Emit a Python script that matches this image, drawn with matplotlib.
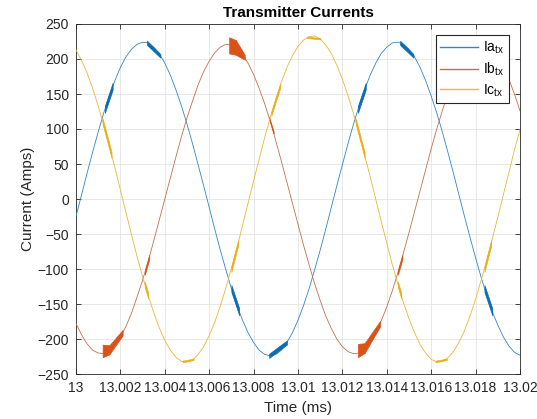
import numpy as np
import matplotlib
matplotlib.use("Agg")
import matplotlib.pyplot as plt

plt.rcParams['font.family'] = ['Liberation Sans', 'DejaVu Sans']

# sample times in ms (one sample every 0.25 us)
time_ms = np.linspace(13.0, 13.02, 81)

# phase currents (A)
ia_tx = [-25, 6, 37, 67, 96, 123, 147, 169, 188, 203,
         214, 221, 224, 223, 217, 208, 194, 177, 156, 133,
         107, 79, 49, 19, -12, -43, -73, -101, -128, -152,
         -173, -191, -205, -216, -222, -224, -222, -216, -205, -191,
         -173, -152, -128, -101, -73, -43, -12, 19, 49, 79,
         107, 133, 156, 177, 194, 208, 217, 223, 224, 221,
         214, 203, 188, 169, 147, 123, 96, 67, 37, 6,
         -25, -55, -84, -112, -138, -161, -180, -197, -210, -219,
         -223]
ib_tx = [-178, -194, -207, -216, -220, -221, -217, -209, -197, -182,
         -163, -140, -116, -89, -60, -30, 0, 30, 60, 89,
         116, 140, 163, 182, 197, 209, 217, 221, 220, 216,
         207, 194, 178, 158, 136, 111, 83, 54, 24, -6,
         -36, -66, -94, -121, -145, -167, -185, -200, -211, -218,
         -221, -220, -214, -205, -191, -174, -154, -131, -105, -77,
         -48, -18, 12, 42, 72, 100, 126, 150, 171, 188,
         202, 213, 219, 221, 219, 213, 202, 188, 171, 150,
         126]
ic_tx = [213, 198, 180, 158, 133, 105, 76, 45, 13, -19,
         -51, -82, -111, -138, -162, -184, -202, -216, -226, -232,
         -233, -230, -222, -211, -195, -176, -153, -127, -99, -70,
         -38, -6, 26, 57, 88, 116, 143, 167, 188, 205,
         218, 227, 232, 233, 229, 220, 208, 191, 171, 148,
         122, 94, 63, 32, 0, -32, -63, -94, -122, -148,
         -171, -191, -208, -220, -229, -233, -232, -227, -218, -205,
         -188, -167, -143, -116, -88, -57, -26, 6, 38, 70,
         99]

# switching noise envelopes: (t_start, t_end, low_start, high_start, low_end, high_end)
ia_bursts = [(13.00130, 13.00165, 123, 133, 156, 166),
             (13.00320, 13.00380, 220, 226, 202, 207),
             (13.00700, 13.00735, -133, -123, -166, -156),
             (13.00870, 13.00950, -227, -221, -208, -202),
             (13.01270, 13.01305, 123, 133, 156, 166),
             (13.01460, 13.01520, 220, 226, 202, 207),
             (13.01840, 13.01875, -133, -123, -166, -156)]
ib_bursts = [(13.00120, 13.00150, -226, -208, -222, -209),
             (13.00150, 13.00210, -222, -209, -195, -187),
             (13.00310, 13.00330, -108, -102, -86, -80),
             (13.00690, 13.00720, 208, 231, 206, 227),
             (13.00720, 13.00760, 206, 227, 199, 206),
             (13.00870, 13.00890, 114, 117, 94, 97),
             (13.01270, 13.01300, -226, -207, -220, -206),
             (13.01300, 13.01370, -220, -206, -182, -174),
             (13.01450, 13.01470, -108, -102, -86, -80)]
ic_bursts = [(13.00120, 13.00160, 107, 115, 59, 67),
             (13.00310, 13.00325, -126, -118, -142, -134),
             (13.00480, 13.00530, -233, -231, -230, -228),
             (13.00700, 13.00730, -104, -96, -67, -59),
             (13.00880, 13.00920, 119, 125, 159, 165),
             (13.01040, 13.01100, 230, 232, 228, 230),
             (13.01260, 13.01300, 107, 115, 59, 67),
             (13.01450, 13.01465, -126, -118, -142, -134),
             (13.01620, 13.01670, -233, -231, -230, -228),
             (13.01840, 13.01870, -104, -96, -67, -59)]

labels = [r'Ia$_\mathregular{tx}$', r'Ib$_\mathregular{tx}$', r'Ic$_\mathregular{tx}$']
x_ticks = [13, 13.002, 13.004, 13.006, 13.008, 13.01, 13.012, 13.014, 13.016, 13.018, 13.02]
x_ticklabels = ['13', '13.002', '13.004', '13.006', '13.008', '13.01',
                '13.012', '13.014', '13.016', '13.018', '13.02']
y_ticks = list(range(-250, 251, 50))

# thin trace colours and the stronger colour of the noise bursts
line_colors = ['#3585c2', '#c0714c', '#e6b838']
burst_colors = ['#0b6cb3', '#d95319', '#e9ae1c']

fig = plt.figure(figsize=(5.37, 4.19), dpi=100)
ax = fig.add_axes([76 / 537, 45 / 419, 444 / 537, 350 / 419])

for i, (vals, bursts) in enumerate([(ia_tx, ia_bursts), (ib_tx, ib_bursts), (ic_tx, ic_bursts)]):
    ax.plot(time_ms, vals, color=line_colors[i], lw=0.6, label=labels[i], zorder=3 + i)
    for t0, t1, lo0, hi0, lo1, hi1 in bursts:
        ax.fill_between([t0, t1], [lo0, lo1], [hi0, hi1], color=burst_colors[i],
                        lw=0.5, zorder=3 + i)

ax.set_xlim(13, 13.02)
ax.set_ylim(-250, 250)
ax.set_xticks(x_ticks)
ax.set_xticklabels(x_ticklabels)
ax.set_yticks(y_ticks)

ax.grid(True, color='#e4e4e4', lw=0.6)
ax.set_axisbelow(True)
ax.tick_params(direction='in', top=True, right=True, length=3.5, width=0.6,
               colors='#262626', labelsize=10, pad=5)
for sp in ax.spines.values():
    sp.set_color('#262626')
    sp.set_linewidth(0.6)

ax.set_title('Transmitter Currents', fontsize=11, fontweight='bold', pad=5)
ax.set_xlabel('Time (ms)', fontsize=11, color='#262626', labelpad=4)
ax.set_ylabel('Current (Amps)', fontsize=11, color='#262626', labelpad=2)

leg = ax.legend(loc='upper right', fontsize=10, fancybox=False, framealpha=1,
                edgecolor='#262626', handlelength=2.7, borderaxespad=0.8,
                labelspacing=0.3, borderpad=0.35, handletextpad=0.35)
leg.get_frame().set_linewidth(0.8)
for line in leg.get_lines():
    line.set_linewidth(1.0)

fig.savefig('out.png', dpi=100)
